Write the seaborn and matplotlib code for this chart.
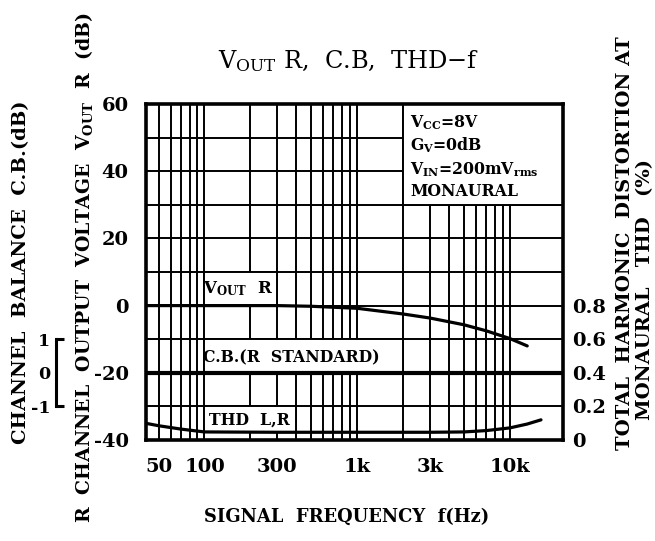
import matplotlib
matplotlib.use("Agg")
import matplotlib.pyplot as plt
import numpy as np
import pandas as pd
import seaborn as sns
from matplotlib.patches import Rectangle
from matplotlib.ticker import FixedLocator, FixedFormatter, NullFormatter

# ---------------- data ----------------
vout_freq = [41, 100, 300, 500, 1000, 2000, 3000, 5000, 7000, 10000, 13000]
vout_db = [0, 0, 0, -0.2, -0.8, -2.5, -3.7, -5.7, -7.5, -9.8, -12.0]

thd_freq = [41, 50, 70, 100, 300, 1000, 3000, 5000, 7000, 10000, 13000, 16000]
thd_pct = [0.10, 0.085, 0.065, 0.048, 0.046, 0.046, 0.046, 0.048, 0.056, 0.072, 0.095, 0.12]

cb_freq = [41, 23000]
cb_db = [0, 0]

x_ticks = [50, 100, 300, 1000, 3000, 10000]
x_tick_labels = ["50", "100", "300", "1k", "3k", "10k"]
x_minor = [60, 70, 80, 90, 200, 400, 500, 600, 700, 800, 900,
           2000, 4000, 5000, 6000, 7000, 8000, 9000]
y_ticks = [-40, -20, 0, 20, 40, 60]
y_tick_labels = ["-40", "-20", "0", "20", "40", "60"]
y_minor = [-30, -10, 10, 30, 50]
thd_ticks = [0, 0.2, 0.4, 0.6, 0.8]
thd_tick_labels = ["0", "0.2", "0.4", "0.6", "0.8"]
cb_ticks = [-1, 0, 1]
cb_tick_labels = ["-1", "0", "1"]

# ---------------- style ----------------
sns.set_theme(style="white")
plt.rcParams["font.family"] = ["DejaVu Serif"]
plt.rcParams["font.weight"] = "bold"
plt.rcParams["mathtext.fontset"] = "custom"
plt.rcParams["mathtext.rm"] = "DejaVu Serif"
plt.rcParams["mathtext.bf"] = "DejaVu Serif:bold"
plt.rcParams["axes.unicode_minus"] = True
for k in ["text.color", "axes.labelcolor", "xtick.color", "ytick.color", "axes.edgecolor"]:
    plt.rcParams[k] = "black"

W, H = 655, 541
fig = plt.figure(figsize=(W / 100, H / 100), dpi=100)
L, R, T, B = 146, 563, 104, 440
ax = fig.add_axes([L / W, 1 - B / H, (R - L) / W, (B - T) / H])

TFS = 14     # tick labels
IFS = 11.3   # in-plot texts
VFS = 14     # rotated axis titles
XMIN, XMAX = 41.4, 22300

df_v = pd.DataFrame({"f": vout_freq, "v": vout_db})
df_t = pd.DataFrame({"f": thd_freq, "t": thd_pct})
df_c = pd.DataFrame({"f": cb_freq, "c": cb_db})

ax.set_xscale("log")
ax.set_xlim(XMIN, XMAX)
ax.set_ylim(-40, 60)
ax.set_axisbelow(True)

# white label boxes
def box(x0, x1, y0, y1):
    ax.add_patch(Rectangle((x0, y0), x1 - x0, y1 - y0, facecolor="white",
                           edgecolor="black", lw=1.4, zorder=1))

box(2000, XMAX, 30, 60)
box(100, 300, 0, 10)
box(100, 2000, -20, -10)
box(100, 400, -37.6, -30)

sns.lineplot(data=df_v, x="f", y="v", ax=ax, color="black", lw=2.3, zorder=3)

# THD axis (right)
ax_t = ax.twinx()
sns.lineplot(data=df_t, x="f", y="t", ax=ax_t, color="black", lw=2.3)
ax_t.set_ylim(0, 2.0)
ax_t.yaxis.set_major_locator(FixedLocator(thd_ticks))
ax_t.yaxis.set_major_formatter(FixedFormatter(thd_tick_labels))
ax_t.tick_params(axis="y", length=0, labelsize=TFS, pad=6.5)
ax_t.set_ylabel("")
ax_t.grid(False)
for s in ax_t.spines.values():
    s.set_visible(False)

# Channel balance axis (far left bracket)
ax_c = ax.twinx()
sns.lineplot(data=df_c, x="f", y="c", ax=ax_c, color="black", lw=3.0)
ax_c.set_ylim(-2, 8)
ax_c.grid(False)
for k, s in ax_c.spines.items():
    s.set_visible(k == "left")
ax_c.spines["left"].set_position(("axes", (56 - L) / (R - L)))
ax_c.spines["left"].set_bounds(-1, 1)
ax_c.spines["left"].set_linewidth(2.2)
ax_c.yaxis.set_ticks_position("left")
ax_c.yaxis.set_label_position("left")
ax_c.yaxis.set_major_locator(FixedLocator(cb_ticks))
ax_c.yaxis.set_major_formatter(FixedFormatter(cb_tick_labels))
ax_c.tick_params(axis="y", direction="in", length=6, width=2.2, labelsize=12.5, pad=4)
ax_c.yaxis.get_major_ticks()[1].tick1line.set_visible(False)
ax_c.set_ylabel("")

# x axis (shared) – configured after twins exist
ax.set_xlim(XMIN, XMAX)
ax.xaxis.set_major_locator(FixedLocator(x_ticks))
ax.xaxis.set_major_formatter(FixedFormatter(x_tick_labels))
ax.xaxis.set_minor_locator(FixedLocator(x_minor))
ax.xaxis.set_minor_formatter(NullFormatter())
ax.yaxis.set_major_locator(FixedLocator(y_ticks))
ax.yaxis.set_major_formatter(FixedFormatter(y_tick_labels))
ax.yaxis.set_minor_locator(FixedLocator(y_minor))
ax.grid(which="both", color="black", lw=1.4)
ax.tick_params(which="both", length=0, labelsize=TFS)
ax.tick_params(axis="y", pad=12.5)
ax.tick_params(axis="x", pad=13)
for s in ax.spines.values():
    s.set_linewidth(2.6)
    s.set_zorder(5)
for a in (ax, ax_t, ax_c):
    a.set_xlabel("")
ax.set_ylabel("")
ax_t.xaxis.set_visible(False)
ax_c.xaxis.set_visible(False)

# ---------------- texts ----------------
fig.text(349 / W, 1 - 61 / H, r"$\mathregular{V_{OUT}}$ R,  C.B,  THD$\mathregular{-}$f",
         ha="center", va="center", fontsize=17.3, fontweight="normal")
fig.text(347 / W, 1 - 517 / H, "SIGNAL  FREQUENCY  f(Hz)", ha="center", va="center",
         fontsize=12.9)
fig.text(84 / W, 1 - 268 / H, r"R  CHANNEL  OUTPUT  VOLTAGE  $\mathregular{V_{OUT}}$  R  (dB)",
         ha="center", va="center", rotation=90, fontsize=13.6)
fig.text(21 / W, 1 - 272 / H, "CHANNEL  BALANCE  C.B.(dB)",
         ha="center", va="center", rotation=90, fontsize=VFS)
fig.text(625 / W, 1 - 243 / H, "TOTAL  HARMONIC  DISTORTION AT",
         ha="center", va="center", rotation=90, fontsize=VFS)
fig.text(645 / W, 1 - 290 / H, "MONAURAL   THD   (%)",
         ha="center", va="center", rotation=90, fontsize=VFS)

def atext(px, py, s, fs=IFS):
    ax.text((px - L) / (R - L), (B - py) / (B - T), s, transform=ax.transAxes,
            ha="left", va="baseline", fontsize=fs, zorder=6)

atext(203, 293, r"$\mathregular{V_{OUT}}$  R", fs=12)
atext(203, 362, "C.B.(R  STANDARD)")
atext(209, 425, "THD  L,R")
atext(410, 127, r"$\mathregular{V_{CC}}$=8V")
atext(410, 150, r"$\mathregular{G_{V}}$=0dB")
atext(410, 174, r"$\mathregular{V_{IN}}$=200m$\mathregular{V_{rms}}$")
atext(410, 196, "MONAURAL")

fig.savefig("out.png", dpi=100)
